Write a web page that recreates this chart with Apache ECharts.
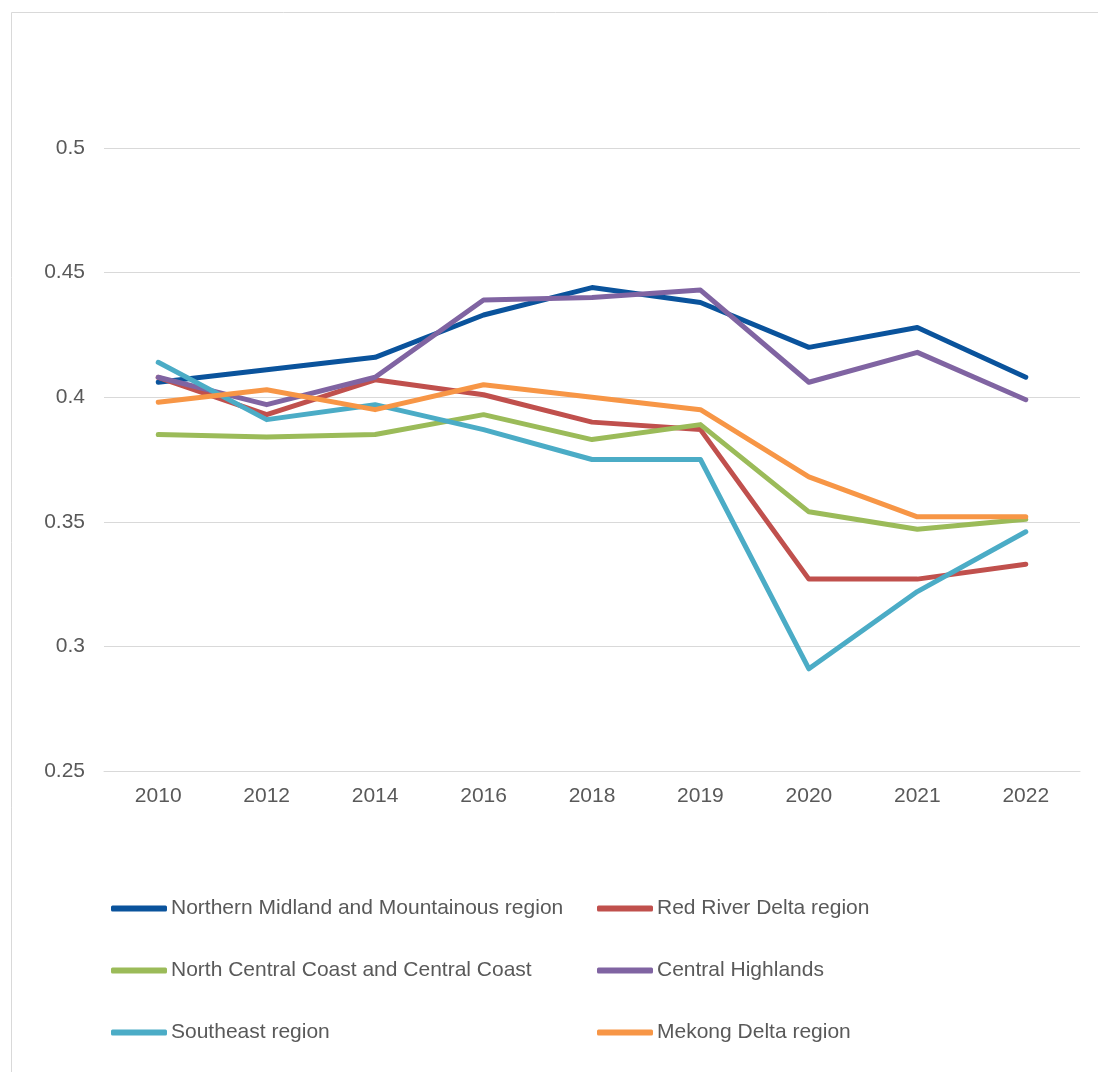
<!DOCTYPE html>
<html>
<head>
<meta charset="utf-8">
<script src="https://cdn.jsdelivr.net/npm/echarts@6/dist/echarts.min.js"></script>
<style>
  html, body { margin: 0; padding: 0; background: #fff; }
  #main { width: 1098px; height: 1072px; }
</style>
</head>
<body>
<div id="main"></div>
<script>
// years on the x axis
const years = ['2010', '2012', '2014', '2016', '2018', '2019', '2020', '2021', '2022'];

const northernMidland = [0.406, 0.411, 0.416, 0.433, 0.444, 0.438, 0.420, 0.428, 0.408];
const redRiverDelta = [0.408, 0.393, 0.407, 0.401, 0.390, 0.387, 0.327, 0.327, 0.333];
const northCentralCoast = [0.385, 0.384, 0.385, 0.393, 0.383, 0.389, 0.354, 0.347, 0.351];
const centralHighlands = [0.408, 0.397, 0.408, 0.439, 0.440, 0.443, 0.406, 0.418, 0.399];
const southeast = [0.414, 0.391, 0.397, 0.387, 0.375, 0.375, 0.291, 0.322, 0.346];
const mekongDelta = [0.398, 0.403, 0.395, 0.405, 0.400, 0.395, 0.368, 0.352, 0.352];

const names = [
  'Northern Midland and Mountainous region',
  'Red River Delta region',
  'North Central Coast and Central Coast',
  'Central Highlands',
  'Southeast region',
  'Mekong Delta region'
];
const colors = ['#0a539c', '#c0504d', '#9bbb59', '#8064a2', '#4bacc6', '#f79646'];
const values = [northernMidland, redRiverDelta, northCentralCoast, centralHighlands, southeast, mekongDelta];

const labelFont = { color: '#595959', fontSize: 21, fontFamily: 'Liberation Sans, Arial, sans-serif' };

const legendBase = {
  orient: 'vertical',
  top: 893,
  itemWidth: 56,
  itemHeight: 6,
  itemGap: 41,
  icon: 'roundRect',
  textStyle: Object.assign({}, labelFont, { padding: [0, 0, 0, -1] })
};

const myChart = echarts.init(document.getElementById('main'));
myChart.setOption({
  animation: false,
  backgroundColor: '#fff',
  color: colors,
  graphic: [{
    type: 'rect',
    left: 9, top: 10,
    shape: { width: 1100, height: 1080 },
    style: { fill: 'none', stroke: '#d9d9d9', lineWidth: 1 },
    silent: true
  }],
  grid: { left: 104, right: 18, top: 148, bottom: 301 },
  legend: [
    Object.assign({}, legendBase, { left: 106, data: [names[0], names[2], names[4]] }),
    Object.assign({}, legendBase, { left: 592, data: [names[1], names[3], names[5]] })
  ],
  xAxis: {
    type: 'category',
    data: years,
    boundaryGap: true,
    axisLine: { lineStyle: { color: '#d9d9d9', width: 1 } },
    axisTick: { show: false },
    axisLabel: Object.assign({}, labelFont, { margin: 15 })
  },
  yAxis: {
    type: 'value',
    min: 0.25,
    max: 0.5,
    interval: 0.05,
    axisLine: { show: false },
    axisTick: { show: false },
    splitLine: { lineStyle: { color: '#d9d9d9', width: 1 } },
    axisLabel: Object.assign({}, labelFont, { margin: 19 })
  },
  series: names.map((n, i) => ({
    name: n,
    type: 'line',
    data: values[i],
    symbol: 'none',
    lineStyle: { width: 5, color: colors[i], cap: 'round', join: 'round' }
  }))
});
</script>
</body>
</html>
